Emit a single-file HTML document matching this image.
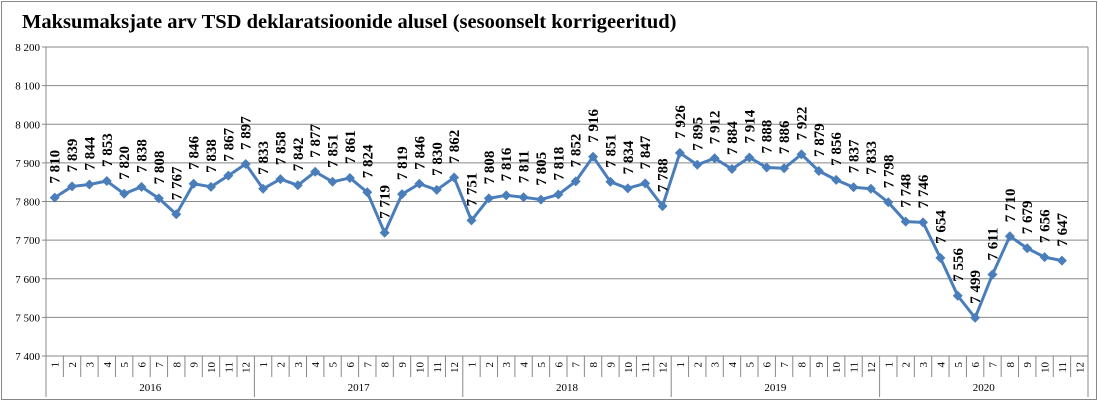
<!DOCTYPE html>
<html><head><meta charset="utf-8"><style>
body{margin:0;background:#fff;}
svg{display:block;font-family:"Liberation Serif",serif;}
</style></head><body>
<svg id="chart" width="1098" height="403">
<rect x="1.5" y="1.5" width="1095" height="398" fill="#fff" stroke="#888"/>
<text x="22" y="28" font-size="20.5" font-weight="bold">Maksumaksjate arv TSD deklaratsioonide alusel (sesoonselt korrigeeritud)</text>
<g id="grid"></g><g id="axes"></g><g id="series"></g>
</svg>
<script>
const years=["2016","2017","2018","2019","2020"];
const months=["1","2","3","4","5","6","7","8","9","10","11","12"];
const yTicks=[7400,7500,7600,7700,7800,7900,8000,8100,8200];
const v2016=[7810,7839,7844,7853,7820,7838,7808,7767,7846,7838,7867,7897];
const v2017=[7833,7858,7842,7877,7851,7861,7824,7719,7819,7846,7830,7862];
const v2018=[7751,7808,7816,7811,7805,7818,7852,7916,7851,7834,7847,7788];
const v2019=[7926,7895,7912,7884,7914,7888,7886,7922,7879,7856,7837,7833];
const v2020=[7798,7748,7746,7654,7556,7499,7611,7710,7679,7656,7647,null];
const NS="http://www.w3.org/2000/svg";
const X0=46,X1=1088,Y0=356,Y1=47,MIN=7400,MAX=8200;
const values=[].concat(v2016,v2017,v2018,v2019,v2020);
const N=values.length,cw=(X1-X0)/N;
const xs=i=>X0+cw*(i+0.5);
const ys=v=>Y0-(v-MIN)/(MAX-MIN)*(Y0-Y1);
function mk(t,a,p){const e=document.createElementNS(NS,t);for(const k in a)e.setAttribute(k,a[k]);p.appendChild(e);return e;}
const grid=document.getElementById('grid'),axes=document.getElementById('axes'),ser=document.getElementById('series');
yTicks.forEach(t=>{const y=ys(t);
 const l=mk('line',{x1:X0,x2:X1,y1:y,y2:y,stroke:'#888','stroke-width':1},grid);
 
 
 const tx=mk('text',{x:X0-6,y:y+4,'text-anchor':'end','font-size':11},axes);tx.textContent=String(t).replace(/(\d)(\d{3})$/,'$1 $2');
 
 
 mk('line',{x1:X0-4,x2:X0,y1:y,y2:y,stroke:'#888'},axes);
});
mk('line',{x1:X0,x2:X0,y1:Y1,y2:397,stroke:'#888'},axes);
mk('line',{x1:X1,x2:X1,y1:Y1,y2:397,stroke:'#888'},axes);
for(let i=0;i<N;i++){
 const x0=X0+cw*i;
 if(i>0){mk('line',{x1:x0,x2:x0,y1:Y0,y2:(i%12==0)?397:377,stroke:'#888'},axes);}
 const tx=mk('text',{transform:`translate(${xs(i)+4},${Y0+6}) rotate(-90)`,'text-anchor':'end','font-size':11},axes);
 tx.textContent=months[i%12];
 
 
}
years.forEach((y,k)=>{const tx=mk('text',{x:X0+cw*(k*12+6),y:391,'text-anchor':'middle','font-size':11},axes);tx.textContent=y;
 
 });
let d='';values.forEach((v,i)=>{if(v!=null)d+=(d?'L':'M')+xs(i)+','+ys(v);});
const p=mk('path',{d:d,fill:'none',stroke:'#4a7ebb','stroke-width':3,'stroke-linejoin':'round'},ser);


values.forEach((v,i)=>{if(v==null)return;const x=xs(i),y=ys(v);
 const m=mk('path',{d:`M${x},${y-5}L${x+5},${y}L${x},${y+5}L${x-5},${y}Z`,fill:'#4a7ebb'},ser);
 
 
 const t=mk('text',{transform:`translate(${x+5},${y-14}) rotate(-90)`,'font-size':15,'font-weight':'bold'},ser);
 t.textContent=String(v).replace(/(\d)(\d{3})$/,'$1 $2');
 
 
});
</script>
</body></html>
